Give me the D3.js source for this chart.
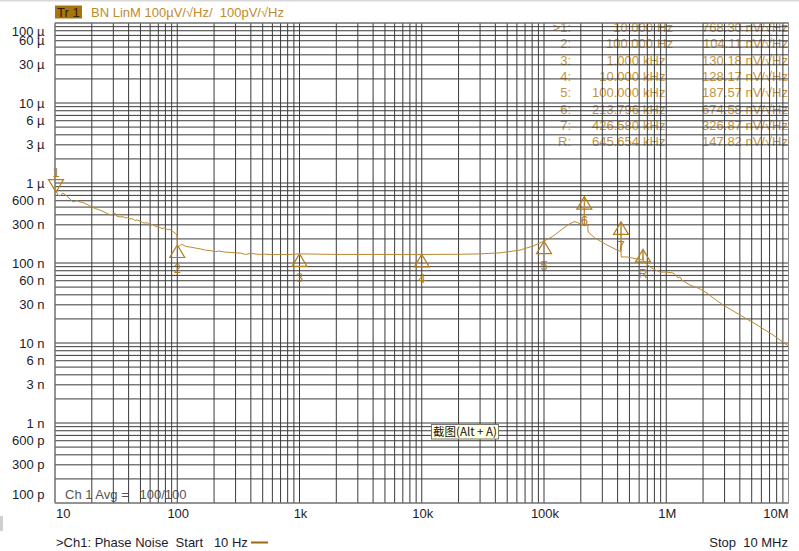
<!DOCTYPE html>
<html><head><meta charset="utf-8">
<script src="https://cdn.jsdelivr.net/npm/d3@7"></script>
<style>
html,body{margin:0;padding:0;background:#fff;}
svg{display:block;font-family:"Liberation Sans",Arial,sans-serif;}
</style></head>
<body><svg id="c" width="799" height="551"></svg>
<script>
// ---------- data ----------
const freqTickLabels = ["10","100","1k","10k","100k","1M","10M"];
const freqTickValues = [10,100,1e3,1e4,1e5,1e6,1e7];
const yTickLabels = ["100 µ","60 µ","30 µ","10 µ","6 µ","3 µ","1 µ","600 n","300 n","100 n","60 n","30 n","10 n","6 n","3 n","1 n","600 p","300 p","100 p"];
const yTickValues = [1e-4,6e-5,3e-5,1e-5,6e-6,3e-6,1e-6,6e-7,3e-7,1e-7,6e-8,3e-8,1e-8,6e-9,3e-9,1e-9,6e-10,3e-10,1e-10];

// trace: frequency (Hz) and noise (nV/√Hz)
const traceFreq = [10,10.6,11,11.6,12.3,13.3,14,15.1,16,17,18.3,19.3,21.3,23.3,25.6,28.2,29.5,31,32,34,36,37.4,39,41,43,45,47,49.6,52,54.5,57,60,63,65.8,69,72,75,79,83,87,91,96,99.5,
  100.5,103,106,109,114,120,128,140,155,170,185,205,220,245,270,300,330,360,400,430,470,520,600,700,800,1000,2000,5000,10000,20000,30000,43700,63600,81300,100000,118000,143000,163000,179000,197000,208000,213500,213796,214100,228000,229500,261000,327600,395500,420000,426000,426580,427200,477500,600000,640000,645654,650000,764000,889000,1000000,1073000,1136000,1200000,1248000,1296000,1345000,1564000,1819000,2154000,2367000,2912000,4012000,5525000,7469000,10000000];
const traceNV = [850,700,690,750,700,630,580,600,580,570,540,515,480,460,430,398,405,420,385,376,380,365,370,355,358,340,345,335,320,316,318,300,302,290,284,278,270,274,262,262,250,237,224,
  158,160,168,172,165,160,158,154,150,145,143,139,141,137,136,134,133,128,132,130,128,129,127,128,127,130,128,128,128,128.5,130,134,145,163,188,215,270,310,330,310,296,292,674.58,292,300,244,205,168,145,140,140,326.87,119,119,111,109,147.82,104,86,77,77,76,75,70,65,67,61,53,48.7,42.2,37.6,29.9,22.4,16.8,12.6,9.17];

// markers
const markerNames = ["1","2","3","4","5","6","7","R"];
const markerFreq = [10,100,1e3,1e4,1e5,213796,426580,645654];
const markerNV = [768.30,168,130.18,128.17,187.57,674.58,326.87,147.82];

// marker table
const tableNames = [">1:","2:","3:","4:","5:","6:","7:","R:"];
const tableStimNum = ["10.000","100.000","1.000","10.000","100.000","213.796","426.580","645.654"];
const tableStimUnit = ["Hz","Hz","kHz","kHz","kHz","kHz","kHz","kHz"];
const tableResp = ["768.30 nV/√Hz","104.11 nV/√Hz","130.18 nV/√Hz","128.17 nV/√Hz","187.57 nV/√Hz","674.58 nV/√Hz","326.87 nV/√Hz","147.82 nV/√Hz"];

// ---------- drawing ----------
const svg = d3.select("#c");
const L = 55, R = 788.5, T = 23, B = 503;
const x = d3.scaleLog().domain([10,1e7]).range([L,R]);
const y = d3.scaleLog().domain([1e-10,1e-4]).range([B,T]);
const gold = "#b27e1a";

// window edges
svg.append("rect").attr("x",0).attr("y",0).attr("width",799).attr("height",1.5).attr("fill","#d8d8d8");
svg.append("rect").attr("x",0).attr("y",516).attr("width",3).attr("height",15).attr("fill","#cfcfcf");

// header
svg.append("rect").attr("x",55).attr("y",5.5).attr("width",27).attr("height",13).attr("fill","#a87410");
svg.append("text").attr("x",57).attr("y",16.5).attr("font-size",13).attr("fill","#2e2000").text("Tr 1");
svg.append("text").attr("x",91).attr("y",17).attr("font-size",13).attr("fill","#c08a2c")
  .style("white-space","pre").text("BN LinM 100µV/√Hz/  100pV/√Hz");

// marker table (under grid)
const tg = svg.append("g").attr("font-size",13).attr("fill","#c6943c");
tableNames.forEach((n,i)=>{
  const yy = 32 + i*16.3;
  tg.append("text").attr("x",571).attr("y",yy).attr("text-anchor","end").text(n);
  const isHz = tableStimUnit[i]==="Hz";
  tg.append("text").attr("x",isHz?653:639).attr("y",yy).attr("text-anchor","end").text(tableStimNum[i]);
  tg.append("text").attr("x",isHz?657:643).attr("y",yy).text(tableStimUnit[i]);
  tg.append("text").attr("x",788).attr("y",yy).attr("text-anchor","end").text(tableResp[i]);
});

// Ch 1 Avg (under grid)
svg.append("text").attr("x",65).attr("y",499).attr("font-size",13).attr("fill","#555")
  .style("white-space","pre").text("Ch 1 Avg =   100/100");

// grid
const grid = svg.append("g").attr("stroke","#3a3a3a").attr("stroke-width",1);
const vx = [];
for (let e=1;e<7;e++) for (let k=1;k<10;k++) vx.push(k*Math.pow(10,e));
vx.push(1e7);
grid.selectAll("line.v").data(vx).join("line").attr("class","v")
  .attr("x1",d=>x(d)).attr("x2",d=>x(d)).attr("y1",T).attr("y2",B);
const hy = [];
for (let e=-10;e<-4;e++) for (let k=1;k<10;k++) hy.push(k*Math.pow(10,e));
hy.push(1e-4);
grid.selectAll("line.h").data(hy).join("line").attr("class","h")
  .attr("x1",L).attr("x2",R).attr("y1",d=>y(d)).attr("y2",d=>y(d));
// frame
svg.append("rect").attr("x",L).attr("y",T).attr("width",R-L).attr("height",B-T)
  .attr("fill","none").attr("stroke","#8a8a8a").attr("stroke-width",1);

// axes labels
const ya = svg.append("g").attr("font-size",13).attr("fill","#1c1c2c");
yTickValues.forEach((v,i)=>{
  let yy = y(v);
  yy = Math.max(yy, 31); yy = Math.min(yy, 494.5);
  ya.append("text").attr("x",44.5).attr("y",yy+4.5).attr("text-anchor","end").text(yTickLabels[i]);
});
const xa = svg.append("g").attr("font-size",13).attr("fill","#1c1c2c");
freqTickValues.forEach((f,i)=>{
  const t = xa.append("text").attr("y",518).text(freqTickLabels[i]);
  if (i===0) t.attr("x",x(f)+1).attr("text-anchor","start");
  else if (i===freqTickValues.length-1) t.attr("x",x(f)).attr("text-anchor","end");
  else t.attr("x",x(f)+1).attr("text-anchor","middle");
});

// trace
const pts = traceFreq.map((f,i)=>[f, traceNV[i]*1e-9]);
const line = d3.line().x(d=>x(d[0])).y(d=>y(d[1]));
svg.append("path").datum(pts).attr("d",line).attr("fill","none")
  .attr("stroke","#bb8830").attr("stroke-width",1);

// markers
const mg = svg.append("g");
markerNames.forEach((n,i)=>{
  const mx = x(markerFreq[i]) + (i===0?1:0), my = y(markerNV[i]*1e-9);
  const w = 7.5, h = 12.5;
  if (i===0) {
    mg.append("path").attr("d",`M${mx},${my} L${mx-w},${my-h} L${mx+w},${my-h} Z`)
      .attr("fill","none").attr("stroke",gold).attr("stroke-width",1.2);
    mg.append("text").attr("x",mx).attr("y",my-h-3).attr("text-anchor","middle")
      .attr("font-size",13).attr("fill",gold).text(n);
  } else {
    mg.append("path").attr("d",`M${mx},${my} L${mx-w},${my+h} L${mx+w},${my+h} Z`)
      .attr("fill","none").attr("stroke",gold).attr("stroke-width",1.2);
    mg.append("text").attr("x",mx).attr("y",my+h+16).attr("text-anchor","middle")
      .attr("font-size",13).attr("fill",gold).text(n);
  }
});

// tooltip
const tt = svg.append("g");
tt.append("rect").attr("x",431.5).attr("y",424.5).attr("width",67).attr("height",14.5)
  .attr("fill","#ffffe1").attr("stroke","#777");
tt.append("text").attr("x",433).attr("y",436).attr("font-size",11.5).attr("fill","#111")
  .attr("font-family","'Noto Sans CJK SC','Liberation Sans',sans-serif").text("截图(Alt + A)");

// footer
svg.append("text").attr("x",56).attr("y",547).attr("font-size",13).attr("fill","#1c1c2c")
  .style("white-space","pre").text(">Ch1: Phase Noise  Start   10 Hz");
svg.append("line").attr("x1",251).attr("x2",268).attr("y1",542.5).attr("y2",542.5)
  .attr("stroke","#9a6a12").attr("stroke-width",2);
svg.append("text").attr("x",788).attr("y",547).attr("font-size",13).attr("fill","#1c1c2c")
  .attr("text-anchor","end").style("white-space","pre").text("Stop  10 MHz");
</script></body></html>
